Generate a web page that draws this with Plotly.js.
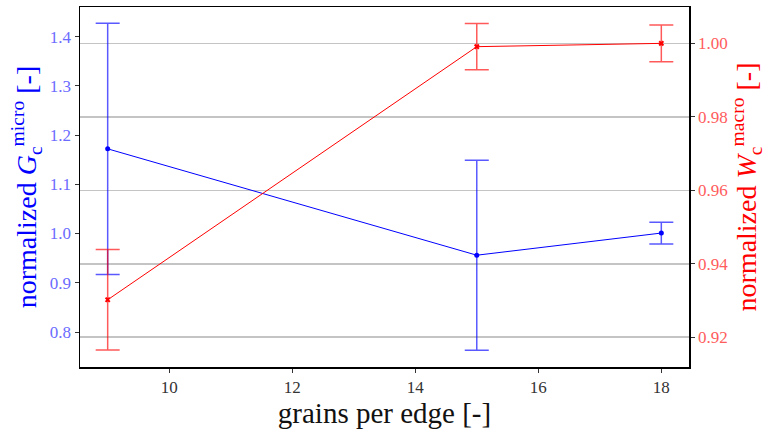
<!DOCTYPE html>
<html>
<head>
<meta charset="utf-8">
<script src="https://cdn.plot.ly/plotly-3.0.1.min.js"></script>
<style>html,body{margin:0;padding:0;background:#fff;}#chart{width:766px;height:430px;}</style>
</head>
<body>
<div id="chart"></div>
<script>
// Data
const grains = [9, 15, 18];
const gcMicro = [1.172, 0.956, 1.001];
const gcMicroErr = [0.255, 0.193, 0.022];
const wcMacro = [0.9302, 0.9991, 1.000];
const wcMacroErr = [0.0137, 0.0063, 0.005];
const xTicks = [10, 12, 14, 16, 18];
const leftTicks = [0.8, 0.9, 1.0, 1.1, 1.2, 1.3, 1.4];
const rightTicks = [0.92, 0.94, 0.96, 0.98, 1.00];

const FONT = 'Liberation Serif, DejaVu Serif, serif';

const traces = [
  {
    x: grains, y: gcMicro, type: 'scatter', mode: 'lines+markers',
    line: {color: '#0000ff', width: 1},
    marker: {color: '#0000ff', size: 5, symbol: 'circle'},
    error_y: {type: 'data', array: gcMicroErr, visible: true, color: 'rgba(0,0,255,0.65)', thickness: 1.5, width: 12},
    yaxis: 'y', showlegend: false
  },
  {
    x: grains, y: wcMacro, type: 'scatter', mode: 'lines+markers',
    line: {color: '#ff0000', width: 1},
    marker: {color: '#ff0000', size: 5, symbol: 'x'},
    error_y: {type: 'data', array: wcMacroErr, visible: true, color: 'rgba(255,0,0,0.65)', thickness: 1.5, width: 12},
    yaxis: 'y2', showlegend: false
  }
];

const layout = {
  width: 766, height: 430,
  margin: {l: 80, r: 77, t: 7, b: 63},
  paper_bgcolor: '#ffffff', plot_bgcolor: '#ffffff',
  font: {family: FONT, size: 17, color: '#333'},
  xaxis: {
    range: [8.55, 18.45], tickvals: xTicks, ticktext: xTicks.map(String),
    showgrid: false, zeroline: false,
    showline: true, linecolor: '#000', linewidth: 1.5, mirror: true,
    ticks: 'outside', ticklen: 4, tickcolor: '#333',
    tickfont: {family: FONT, size: 17, color: '#333'},
    title: {text: 'grains per edge [-]', font: {family: FONT, size: 29, color: '#111'}, standoff: 4}
  },
  yaxis: {
    range: [0.729, 1.460], tickvals: leftTicks, ticktext: leftTicks.map(v => v.toFixed(1)),
    showgrid: false, zeroline: false,
    showline: true, linecolor: '#000', linewidth: 1.5,
    ticks: 'outside', ticklen: 4, tickcolor: '#333',
    tickfont: {family: FONT, size: 17, color: '#6b6bff'},
    title: {text: 'normalized <i>G</i><sub>c</sub><sup>micro</sup> [-]', font: {family: FONT, size: 28, color: '#0000ff'}, standoff: 5}
  },
  yaxis2: {
    overlaying: 'y', side: 'right',
    range: [0.9119, 1.0099], tickvals: rightTicks, ticktext: rightTicks.map(v => v.toFixed(2)),
    showgrid: true, gridcolor: '#c4c4c4', gridwidth: 1.5, zeroline: false,
    showline: true, linecolor: '#000', linewidth: 1.5,
    ticks: 'outside', ticklen: 4, tickcolor: '#333',
    tickfont: {family: FONT, size: 17, color: '#ff5c5c'},
    title: {text: 'normalized <i>W</i><sub>c</sub><sup>macro</sup> [-]', font: {family: FONT, size: 28, color: '#ff0000'}, standoff: 6}
  }
};

Plotly.newPlot('chart', traces, layout, {displayModeBar: false, staticPlot: true});
</script>
</body>
</html>
